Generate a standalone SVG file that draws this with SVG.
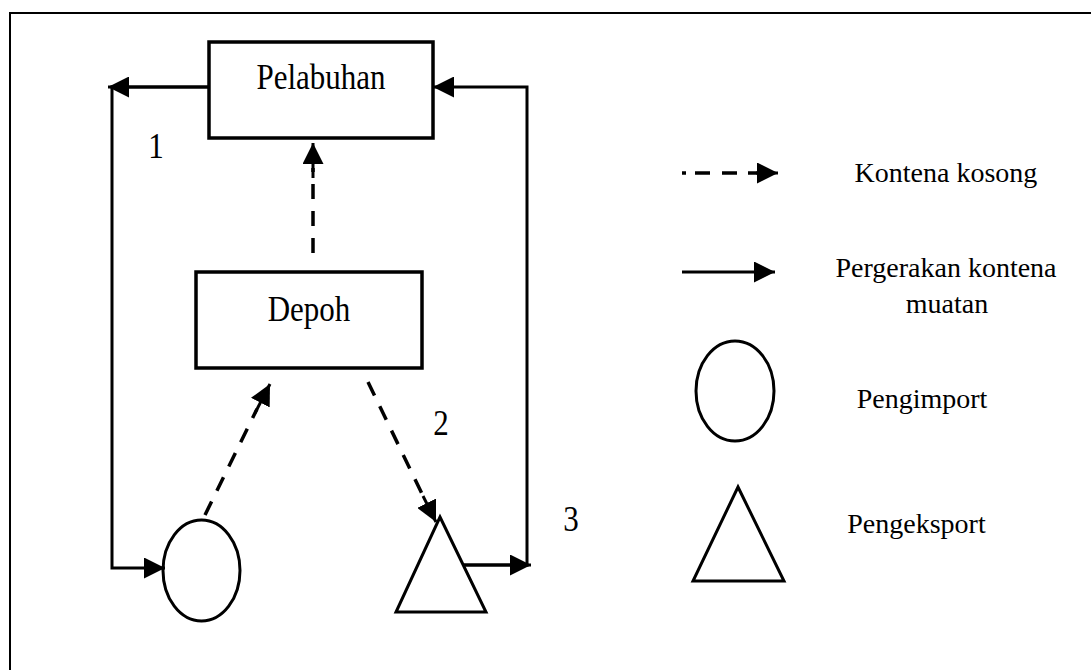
<svg xmlns="http://www.w3.org/2000/svg" width="1091" height="670" viewBox="0 0 1091 670">
<defs>
<style>
.frame{fill:none;stroke:#000;stroke-width:2}
.box{fill:#fff;stroke:#000;stroke-width:3.5}
.shape{fill:none;stroke:#000;stroke-width:3}
.solid{fill:none;stroke:#000;stroke-width:3}
.dash{fill:none;stroke:#000;stroke-width:3.5;stroke-dasharray:15 12}
.t{fill:#000;text-anchor:middle}
.main{font-size:31px}
.leg{font-size:28px}
</style>
<marker id="ah" viewBox="0 0 10 10" refX="10" refY="5" markerWidth="21" markerHeight="21" markerUnits="userSpaceOnUse" orient="auto">
<path d="M0,0 L10,5 L0,10 Z" fill="#000"/>
</marker>
</defs>
<rect x="0" y="0" width="1091" height="670" fill="#fff"/>
<path class="frame" d="M10,680 L10,13 L1100,13"/>

<g id="connectors">
<path class="solid" d="M209,87 L112,87 L112,568 L165,568" marker-end="url(#ah)"/>
<path class="solid" d="M209,87 L108,87" marker-end="url(#ah)"/>
<path class="solid" d="M463,565 L527,565 L527,87 L433,87" marker-end="url(#ah)"/>
<path class="solid" d="M463,565 L531,565" marker-end="url(#ah)"/>
<path class="dash" d="M313,253 L313,168"/>
<path class="solid" d="M313,178 L313,143" marker-end="url(#ah)"/>
<path class="dash" d="M205,515 L257,409"/>
<path class="solid" d="M255,413 L270,384" marker-end="url(#ah)"/>
<path class="dash" d="M368,382 L425,500"/>
<path class="solid" d="M423,496 L436,522" marker-end="url(#ah)"/>
</g>

<g id="pelabuhan">
<rect class="box" x="209" y="42" width="224" height="96"/>
<text class="t main" font-family="Liberation Serif, serif" transform="translate(321,89) scale(1,1.17)">Pelabuhan</text>
</g>
<g id="depoh">
<rect class="box" x="196" y="272" width="226" height="96"/>
<text class="t main" font-family="Liberation Serif, serif" transform="translate(309,321) scale(1,1.17)">Depoh</text>
</g>
<g id="pengimport-node">
<ellipse class="shape" cx="201.5" cy="570.5" rx="38.5" ry="50.5"/>
</g>
<g id="pengeksport-node">
<polygon class="shape" points="440,517 486,612 396,612"/>
</g>
<g id="labels" font-family="Liberation Serif, serif">
<text class="t main" transform="translate(156,158) scale(1,1.17)">1</text>
<text class="t main" transform="translate(441,435) scale(1,1.17)">2</text>
<text class="t main" transform="translate(571,531) scale(1,1.17)">3</text>
</g>

<g id="legend" font-family="Liberation Serif, serif">
<path d="M682,173 L686,173" stroke="#000" stroke-width="3.5"/>
<path d="M695,173 L710,173 M722,173 L737,173 M748,173 L758,173" stroke="#000" stroke-width="3.5"/>
<path d="M756,173 L778,173" class="solid" marker-end="url(#ah)"/>
<text class="t leg" x="946" y="182">Kontena kosong</text>
<path d="M682,272 L775,272" class="solid" marker-end="url(#ah)"/>
<text class="t leg" x="946" y="277">Pergerakan kontena</text>
<text class="t leg" x="947" y="313">muatan</text>
<ellipse class="shape" cx="735" cy="391" rx="39" ry="50"/>
<text class="t leg" x="922" y="408">Pengimport</text>
<polygon class="shape" points="738,487 784,581 693,581"/>
<text class="t leg" x="916.5" y="533">Pengeksport</text>
</g>
</svg>
